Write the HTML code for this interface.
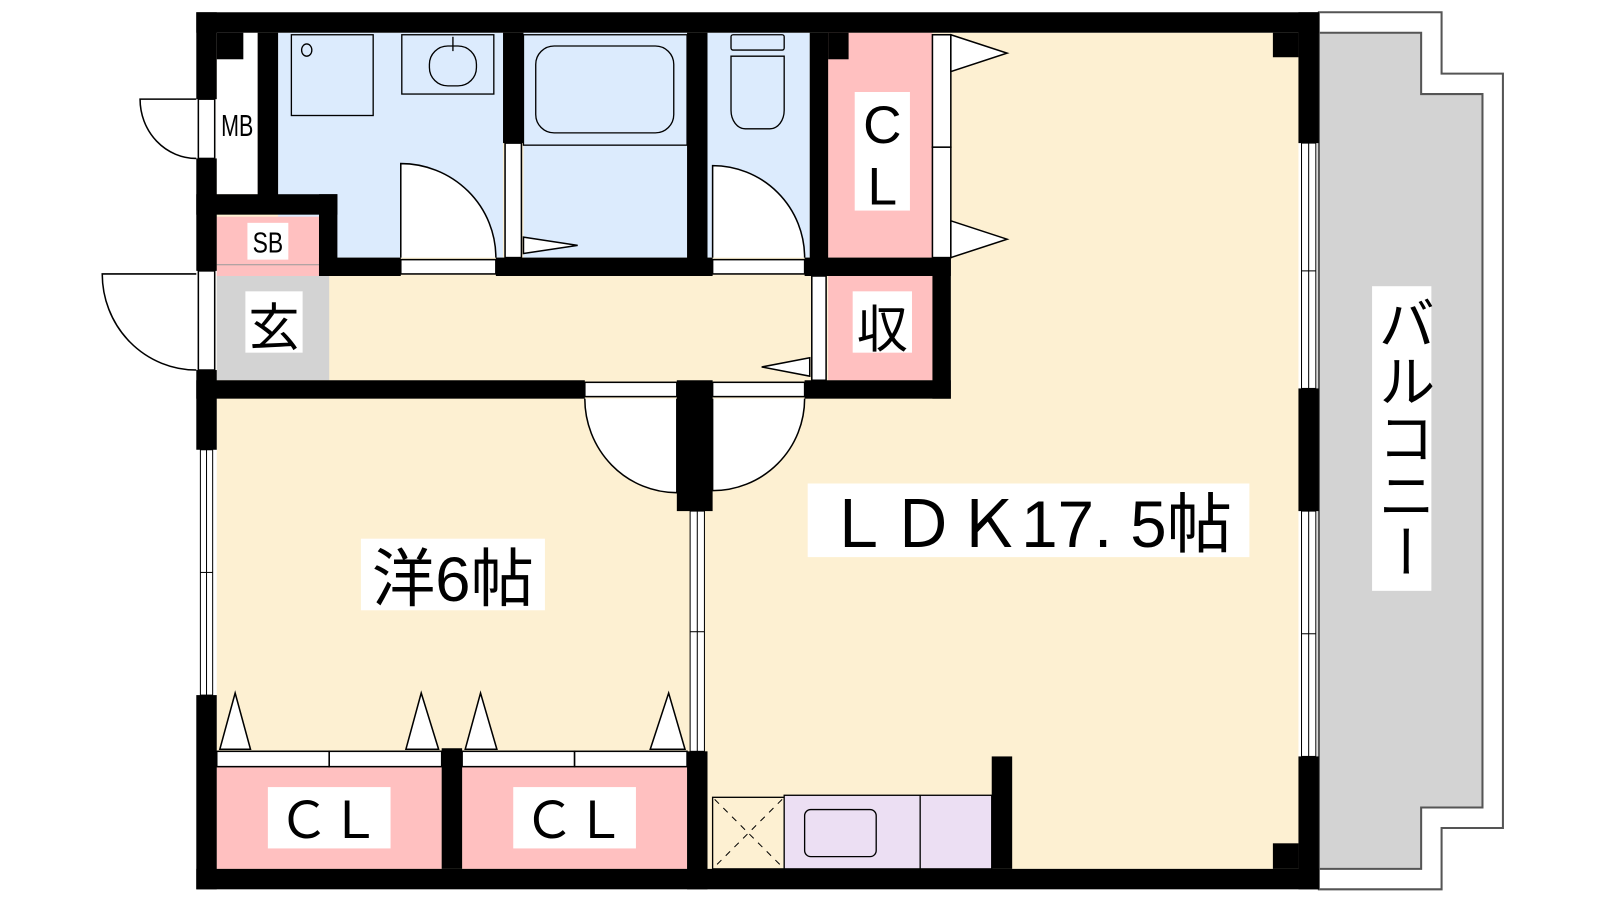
<!DOCTYPE html>
<html><head><meta charset="utf-8"><style>
html,body{margin:0;padding:0;background:#fff;}
svg{display:block;}
text{font-family:"Liberation Sans","Noto Sans CJK JP",sans-serif;}
</style></head><body>
<svg width="1600" height="900" viewBox="0 0 1600 900" xmlns="http://www.w3.org/2000/svg">
<g transform="scale(1.0224 1.0222)">
<path d="M1290 12 H1410 V72 H1470 V810 H1410 V870 H1290 Z" fill="#fff" stroke="#555" stroke-width="2"/>
<path d="M1290 32 H1390 V92 H1450 V790 H1390 V850 H1290 Z" fill="#d3d3d3" stroke="#555" stroke-width="2"/>
<rect x="212" y="32" width="1058" height="818" fill="#fdf0d2"/>
<rect x="212" y="32" width="40" height="158" fill="#fff"/>
<rect x="272" y="32" width="220" height="220" fill="#dcebfd"/>
<rect x="512" y="32" width="160" height="220" fill="#dcebfd"/>
<rect x="692" y="32" width="100" height="220" fill="#dcebfd"/>
<rect x="810" y="32" width="102" height="220" fill="#ffc0c0"/>
<rect x="810" y="270" width="102" height="102" fill="#ffc0c0"/>
<rect x="212" y="212" width="100" height="58" fill="#ffc0c0"/>
<line x1="212" y1="259" x2="312" y2="259" stroke="#999" stroke-width="1"/>
<rect x="212" y="270" width="110" height="102" fill="#d3d3d3"/>
<rect x="212" y="750" width="220" height="100" fill="#ffc0c0"/>
<rect x="452" y="750" width="220" height="100" fill="#ffc0c0"/>
<g fill="#000">
<rect x="192" y="12" width="1098" height="20"/>
<rect x="192" y="850" width="1098" height="20"/>
<rect x="192" y="12" width="20" height="85"/>
<rect x="192" y="155" width="20" height="110"/>
<rect x="192" y="362" width="20" height="78"/>
<rect x="192" y="680" width="20" height="190"/>
<rect x="1270" y="12" width="20" height="128"/>
<rect x="1270" y="380" width="20" height="120"/>
<rect x="1270" y="740" width="20" height="130"/>
<rect x="1245" y="32" width="25" height="24"/>
<rect x="1245" y="825" width="25" height="25"/>
<rect x="212" y="32" width="26" height="26"/>
<rect x="252" y="32" width="20" height="160"/>
<rect x="192" y="190" width="138" height="20"/>
<rect x="312" y="190" width="18" height="80"/>
<rect x="312" y="252" width="80" height="18"/>
<rect x="485" y="252" width="212" height="18"/>
<rect x="787" y="252" width="143" height="18"/>
<rect x="492" y="32" width="20" height="108"/>
<rect x="672" y="32" width="20" height="238"/>
<rect x="792" y="32" width="18" height="238"/>
<rect x="810" y="32" width="20" height="26"/>
<rect x="912" y="252" width="18" height="138"/>
<rect x="192" y="372" width="380" height="18"/>
<rect x="662" y="372" width="35" height="128"/>
<rect x="787" y="372" width="143" height="18"/>
<rect x="672" y="735" width="20" height="135"/>
<rect x="432" y="732" width="20" height="118"/>
<rect x="970" y="740" width="20" height="110"/>
</g>
<g fill="#fff" stroke="#000" stroke-width="1.5">
<rect x="194" y="97" width="16" height="58"/>
<rect x="194" y="265" width="16" height="97"/>
<rect x="392" y="254" width="93" height="14"/>
<rect x="697" y="254" width="90" height="14"/>
<rect x="572" y="374" width="90" height="14"/>
<rect x="697" y="374" width="90" height="14"/>
<rect x="494" y="140" width="16" height="112"/>
<rect x="794" y="270" width="14" height="102"/>
<rect x="912" y="34" width="18" height="110"/>
<rect x="912" y="144" width="18" height="108"/>
<rect x="212" y="735" width="110" height="15"/>
<rect x="322" y="735" width="110" height="15"/>
<rect x="452" y="735" width="110" height="15"/>
<rect x="562" y="735" width="110" height="15"/>
<path d="M192 97 H137 A55 58 0 0 0 192 155"/>
<path d="M192 268 H100 A92 94 0 0 0 192 362"/>
<path d="M392 252 V160 A93 92 0 0 1 485 252"/>
<path d="M697 252 V162 A90 90 0 0 1 787 252"/>
<path d="M662 390 V482 A90 92 0 0 1 572 390"/>
<path d="M697 390 V480 A90 90 0 0 0 787 390"/>
<path d="M512 232 L565 240 L512 248 Z"/>
<path d="M930 34 L985 52 L930 70 Z"/>
<path d="M930 216 L985 234 L930 252 Z"/>
<path d="M792 350 L745 359 L792 368 Z"/>
<path d="M215 733 L230 678 L245 733 Z"/>
<path d="M397 733 L412 678 L429 733 Z"/>
<path d="M455 733 L470 678 L486 733 Z"/>
<path d="M636 733 L654 678 L670 733 Z"/>
</g>
<g fill="#fff" stroke="#000" stroke-width="1">
<rect x="196" y="440" width="12" height="240"/>
<rect x="1273" y="140" width="14" height="240"/>
<rect x="1273" y="500" width="14" height="240"/>
<rect x="675" y="500" width="14" height="235"/>
</g>
<g stroke="#000" stroke-width="1">
<line x1="202" y1="440" x2="202" y2="680"/>
<line x1="1280" y1="140" x2="1280" y2="380"/>
<line x1="1280" y1="500" x2="1280" y2="740"/>
<line x1="682" y1="500" x2="682" y2="735"/>
<line x1="196" y1="560" x2="208" y2="560"/>
<line x1="1273" y1="265" x2="1287" y2="265"/>
<line x1="1273" y1="620" x2="1287" y2="620"/>
<line x1="675" y1="618" x2="689" y2="618"/>
</g>
<g fill="none" stroke="#000" stroke-width="1.3">
<rect x="285" y="34" width="80" height="79"/>
<ellipse cx="300" cy="49" rx="5" ry="6"/>
<rect x="393" y="34" width="90" height="58"/>
<rect x="420" y="45" width="46" height="39" rx="18"/>
<line x1="443" y1="36" x2="443" y2="50"/>
<rect x="512" y="34" width="160" height="108"/>
<rect x="524" y="45" width="135" height="85" rx="18"/>
<rect x="715" y="34" width="52" height="15" rx="2"/>
<path d="M715 55 H767 V108 A14 18 0 0 1 753 126 H729 A14 18 0 0 1 715 108 Z"/>
<rect x="697" y="780" width="70" height="70" fill="#fdf0d2"/>
<path d="M699 782 L765 848 M765 782 L699 848" stroke-dasharray="6 6" stroke-width="1"/>
<rect x="767" y="778" width="203" height="72" fill="#ecdff3"/>
<line x1="900" y1="778" x2="900" y2="850"/>
<rect x="787" y="792" width="70" height="46" rx="6"/>
</g>
<g fill="#fff">
<rect x="836" y="90" width="54" height="116"/>
<rect x="834" y="285" width="58" height="60"/>
<rect x="240" y="285" width="56" height="60"/>
<rect x="242" y="218" width="40" height="36"/>
<rect x="790" y="473" width="432" height="72"/>
<rect x="353" y="527" width="180" height="70"/>
<rect x="262" y="770" width="120" height="60"/>
<rect x="502" y="770" width="120" height="60"/>
<rect x="1342" y="280" width="58" height="298"/>
</g>
<g fill="#000">
<text x="863" y="140" font-size="52" text-anchor="middle">C</text>
<text x="863" y="200" font-size="52" text-anchor="middle">L</text>
<text x="863" y="340" font-size="50" text-anchor="middle">収</text>
<text x="268" y="338" font-size="50" text-anchor="middle">玄</text>
<text x="262" y="247" font-size="28" text-anchor="middle" transform="translate(262 0) scale(0.8 1) translate(-262 0)">SB</text>
<text x="232" y="133" font-size="30" text-anchor="middle" transform="translate(232 0) scale(0.7 1) translate(-232 0)">MB</text>
<text x="1006" y="535" font-size="64" text-anchor="middle">ＬＤＫ17. 5帖</text>
<text x="443" y="588" font-size="62" text-anchor="middle">洋6帖</text>
<text x="322" y="820" font-size="50" text-anchor="middle">ＣＬ</text>
<text x="562" y="820" font-size="50" text-anchor="middle">ＣＬ</text>
<text x="1371" y="288" font-size="56" style="writing-mode:vertical-rl">バルコニー</text>
</g>
</g>
</svg>
</body></html>
